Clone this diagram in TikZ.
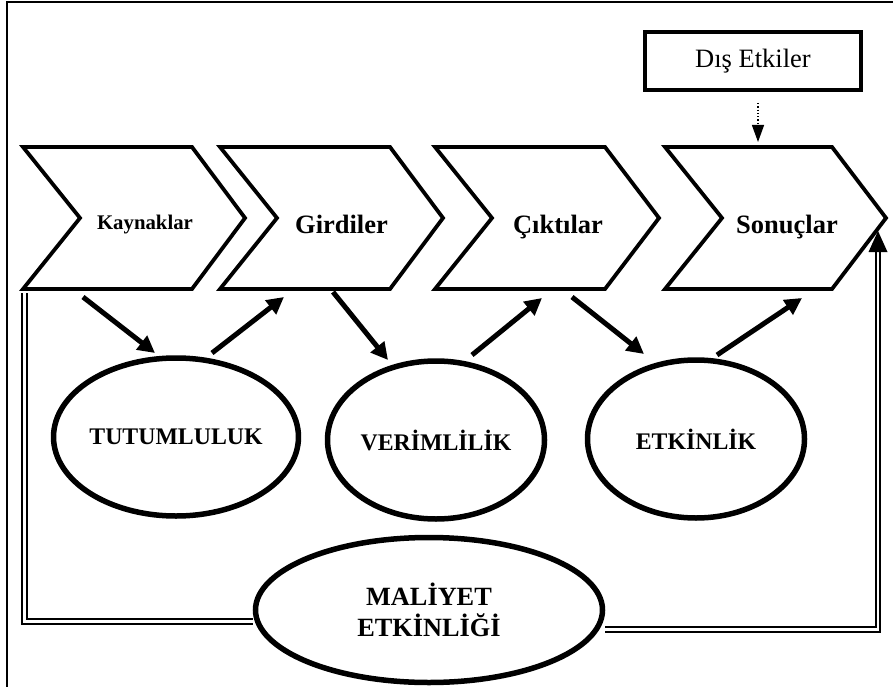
\documentclass[tikz,border=0pt]{standalone}
\usepackage{fontspec}
\setmainfont{Liberation Serif}
\usetikzlibrary{arrows.meta,shapes.geometric}
\begin{document}
\begin{tikzpicture}[x=1pt,y=-1pt,
  chevbox/.style={draw, line width=3.8pt, line join=miter},
  chevtext/.style={font=\bfseries\fontsize{26.5}{30}\selectfont, anchor=base, inner sep=0pt},
  oval/.style={ellipse, draw, line width=5.5pt, inner sep=0pt,
    font=\bfseries\fontsize{23.8}{28}\selectfont},
  fatarrow/.style={line width=5pt, -{Triangle[length=17pt,width=17pt]}},
  dbl/.style={double, line width=2pt, double distance=2.2pt, line join=miter},
  tipfill/.style={fill=black},
]
\useasboundingbox (0,0) rectangle (893,687);
\clip (0,0) rectangle (893,687);
% outer frame
\draw[line width=2pt] (7,700) -- (7,2) -- (900,2);

% chevrons
\draw[chevbox] (23,147) -- (192,147) -- (245,218) -- (192,289) -- (23,289) -- (80,218) -- cycle;
\draw[chevbox] (220,147) -- (390,147) -- (443,218) -- (390,289) -- (220,289) -- (277,218) -- cycle;
\draw[chevbox] (435,147) -- (605,147) -- (659,218) -- (605,289) -- (435,289) -- (492,218) -- cycle;
\draw[chevbox] (665,147) -- (832,147) -- (886,218) -- (832,289) -- (665,289) -- (722,218) -- cycle;

\node[chevtext, font=\bfseries\fontsize{20.8}{24}\selectfont] (kay) at (145,229) {Kaynaklar};
\node[chevtext] (gir) at (341.5,233) {Girdiler};
\node[chevtext] (cik) at (558,233) {Çıktılar};
\node[chevtext] (son) at (787,233) {Sonuçlar};

% external box
\node[draw, line width=3.8pt, minimum width=216pt, minimum height=58pt,
      font=\fontsize{26.5}{30}\selectfont] (dis) at (753,61) {Dış Etkiler};
\coordinate (dtop) at (758,103);
\coordinate (dbot) at (758,142);
\draw[dotted, line width=1.3pt, -{Triangle[length=17pt,width=12pt]}] (dtop) -- (dbot);

% ellipses
\node[oval, minimum width=217pt, minimum height=158pt] (tut) at (176,437) {TUTUMLULUK};
\node[oval, minimum width=217pt, minimum height=158pt] (ver) at (436,440) {VERİMLİLİK};
\node[oval, minimum width=217pt, minimum height=158pt] (etk) at (696,439) {ETKİNLİK};
\node[oval, minimum width=347pt, minimum height=145pt, align=center,
      font=\bfseries\fontsize{26.3}{31}\selectfont] (mal) at (429,610) {MALİYET\\ETKİNLİĞİ};

% fat arrows
\coordinate (a1s) at (83,297);  \coordinate (a1e) at (155,353);
\coordinate (a2s) at (212,353); \coordinate (a2e) at (284,297);
\coordinate (a3s) at (333,292); \coordinate (a3e) at (388,360);
\coordinate (a4s) at (472,355); \coordinate (a4e) at (542,298);
\coordinate (a5s) at (572,297); \coordinate (a5e) at (644,354);
\coordinate (a6s) at (717,355); \coordinate (a6e) at (802,298);
\draw[fatarrow] (a1s) -- (a1e);
\draw[fatarrow] (a2s) -- (a2e);
\draw[fatarrow] (a3s) -- (a3e);
\draw[fatarrow] (a4s) -- (a4e);
\draw[fatarrow] (a5s) -- (a5e);
\draw[fatarrow] (a6s) -- (a6e);

% double feedback lines
\coordinate (lstart) at (24.5,293);
\coordinate (lcorner) at (24.5,621.5);
\draw[dbl] (lstart) -- (lcorner) -- (mal.west |- lcorner);
\coordinate (rcorner) at (878,629.5);
\coordinate (rend) at (878,251);
\draw[dbl] (mal.east |- rcorner) -- (rcorner) -- (rend);
\fill[tipfill] (878,231) -- (868.5,252) -- (887.5,252) -- cycle;
\end{tikzpicture}
\end{document}
